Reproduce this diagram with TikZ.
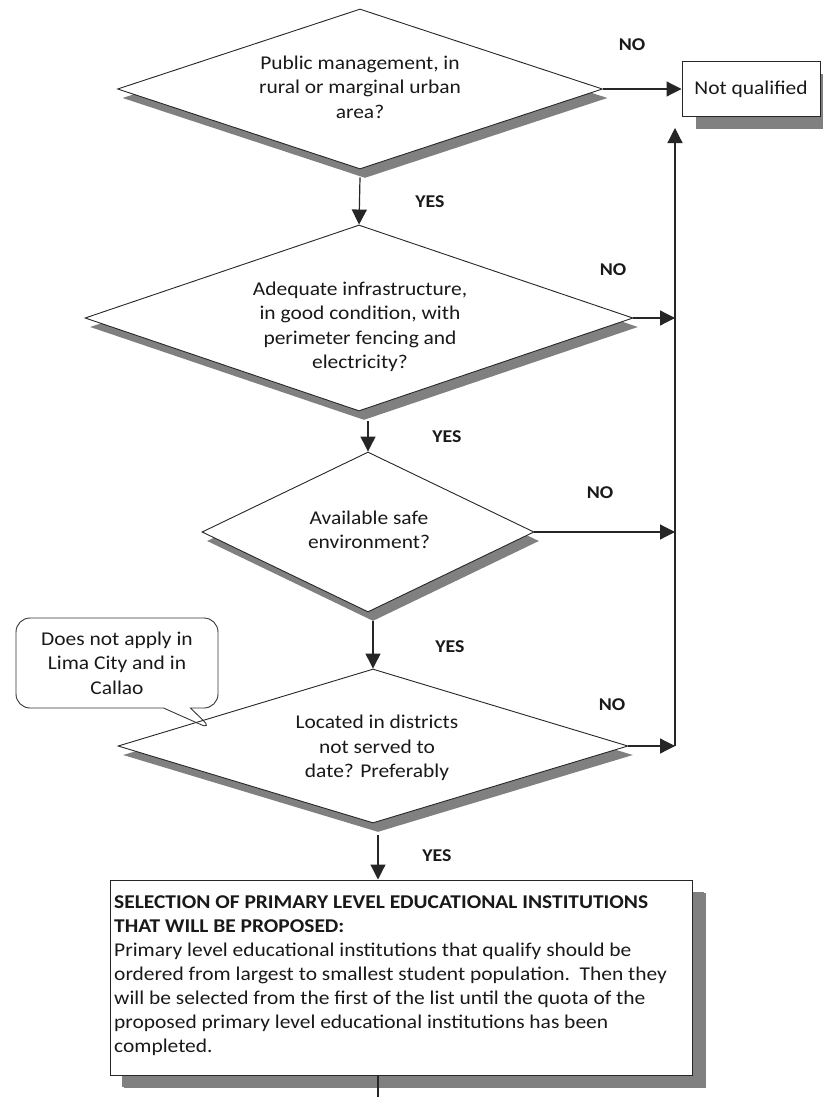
\documentclass[tikz,border=0pt]{standalone}
\usepackage{fontspec}
\setmainfont{Carlito}[FakeStretch=1.1]
\usetikzlibrary{shapes.geometric,shapes.callouts,shadows,arrows.meta}
\begin{document}
\begin{tikzpicture}[x=1pt,y=-1pt,
  dia/.style={diamond, draw=black!85, line width=0.9pt, fill=white, inner sep=0pt,
    drop shadow={shadow xshift=5pt, shadow yshift=-9pt, fill=black!50, opacity=1}},
  txt/.style={align=center, font=\fontsize{19.5}{24.5}\selectfont, text=black!90},
  lab/.style={font=\bfseries\fontsize{18}{20}\selectfont, text=black!90},
  conn/.style={draw=black!85, line width=1.2pt, -{Triangle[width=15pt,length=15pt]}},
  plain/.style={draw=black!85, line width=1.2pt},
  box/.style={rectangle, draw=black!85, line width=1pt, fill=white, inner sep=0pt,
    drop shadow={shadow xshift=14pt, shadow yshift=-13pt, fill=black!50, opacity=1}},
]
\fill[white] (0,0) rectangle (822,1097);
\useasboundingbox (0,0) rectangle (822,1097);

% decisions
\node[dia, minimum width=485pt, minimum height=160pt] (d1) at (360,89) {};
\node[txt] (t1) at (360,87) {Public management, in\\rural or marginal urban\\area?};

\node[dia, minimum width=548pt, minimum height=186pt] (d2) at (359,318) {};
\node[txt] (t2) at (360,327) {Adequate infrastructure,\\in good condition, with\\perimeter fencing and\\electricity?};

\node[dia, minimum width=332pt, minimum height=160pt] (d3) at (368,532) {};
\node[txt] (t3) at (369,530) {Available safe\\environment?};

\node[dia, minimum width=510pt, minimum height=154pt] (d4) at (373,746) {};
\node[txt] (t4) at (377,748) {Located in districts\\not served to\\date? Preferably};

% boxes
\node[box, minimum width=138pt, minimum height=55pt, txt] (nq) at (751,89) {Not qualified};

\node[box, drop shadow={shadow xshift=12pt, shadow yshift=-12pt, fill=black!50, opacity=1},
  minimum width=582pt, minimum height=195pt] (bb) at (401,977.5) {};
\node[anchor=north west, inner sep=0pt, align=left, font=\fontsize{19.5}{24}\selectfont, text=black!90] (bt) at (114,895)
 {\textbf{SELECTION OF PRIMARY LEVEL EDUCATIONAL INSTITUTIONS}\\
  \textbf{THAT WILL BE PROPOSED:}\\
  Primary level educational institutions that qualify should be\\
  ordered from largest to smallest student population.\ \ Then they\\
  will be selected from the first of the list until the quota of the\\
  proposed primary level educational institutions has been\\
  completed.};

% callout
\node[rectangle callout, draw=black!80, line width=0.9pt, rounded corners=14pt,
  minimum width=202pt, minimum height=90pt, inner sep=0pt,
  callout absolute pointer={(213,730)}, callout pointer width=27pt, txt] (co) at (117,663)
  {Does not apply in\\Lima City and in\\Callao};

% junctions
\coordinate (j4) at (675,746);
\coordinate (jt) at (675,128);
\coordinate (bx) at (378,1097);

% connectors
\draw[conn] (d1.east) -- (nq.west);
\draw[conn] (d2.east) -- (d2.east -| j4);
\draw[conn] (d3.east) -- (d3.east -| j4);
\draw[conn] (d4.east) -- (j4);
\draw[conn] (j4) -- (jt);

\draw[conn] ([yshift=-8pt]d1.south) -- (d2.north);
\draw[conn] ([yshift=-10pt]d2.south -| d3.north) -- (d3.north);
\draw[conn] ([yshift=-9pt]d3.south -| d4.north) -- (d4.north);
\draw[conn] ([yshift=-12pt]d4.south -| bx) -- (bb.north -| bx);
\draw[plain] (bb.south -| bx) -- (bx);

% labels
\node[lab] (n1) at (632,45) {NO};
\node[lab] (y1) at (430,202) {YES};
\node[lab] (n2) at (613,270) {NO};
\node[lab] (y2) at (447,437) {YES};
\node[lab] (n3) at (600,493) {NO};
\node[lab] (y3) at (450,647) {YES};
\node[lab] (n4) at (612,705) {NO};
\node[lab] (y4) at (437,856) {YES};
\end{tikzpicture}
\end{document}
